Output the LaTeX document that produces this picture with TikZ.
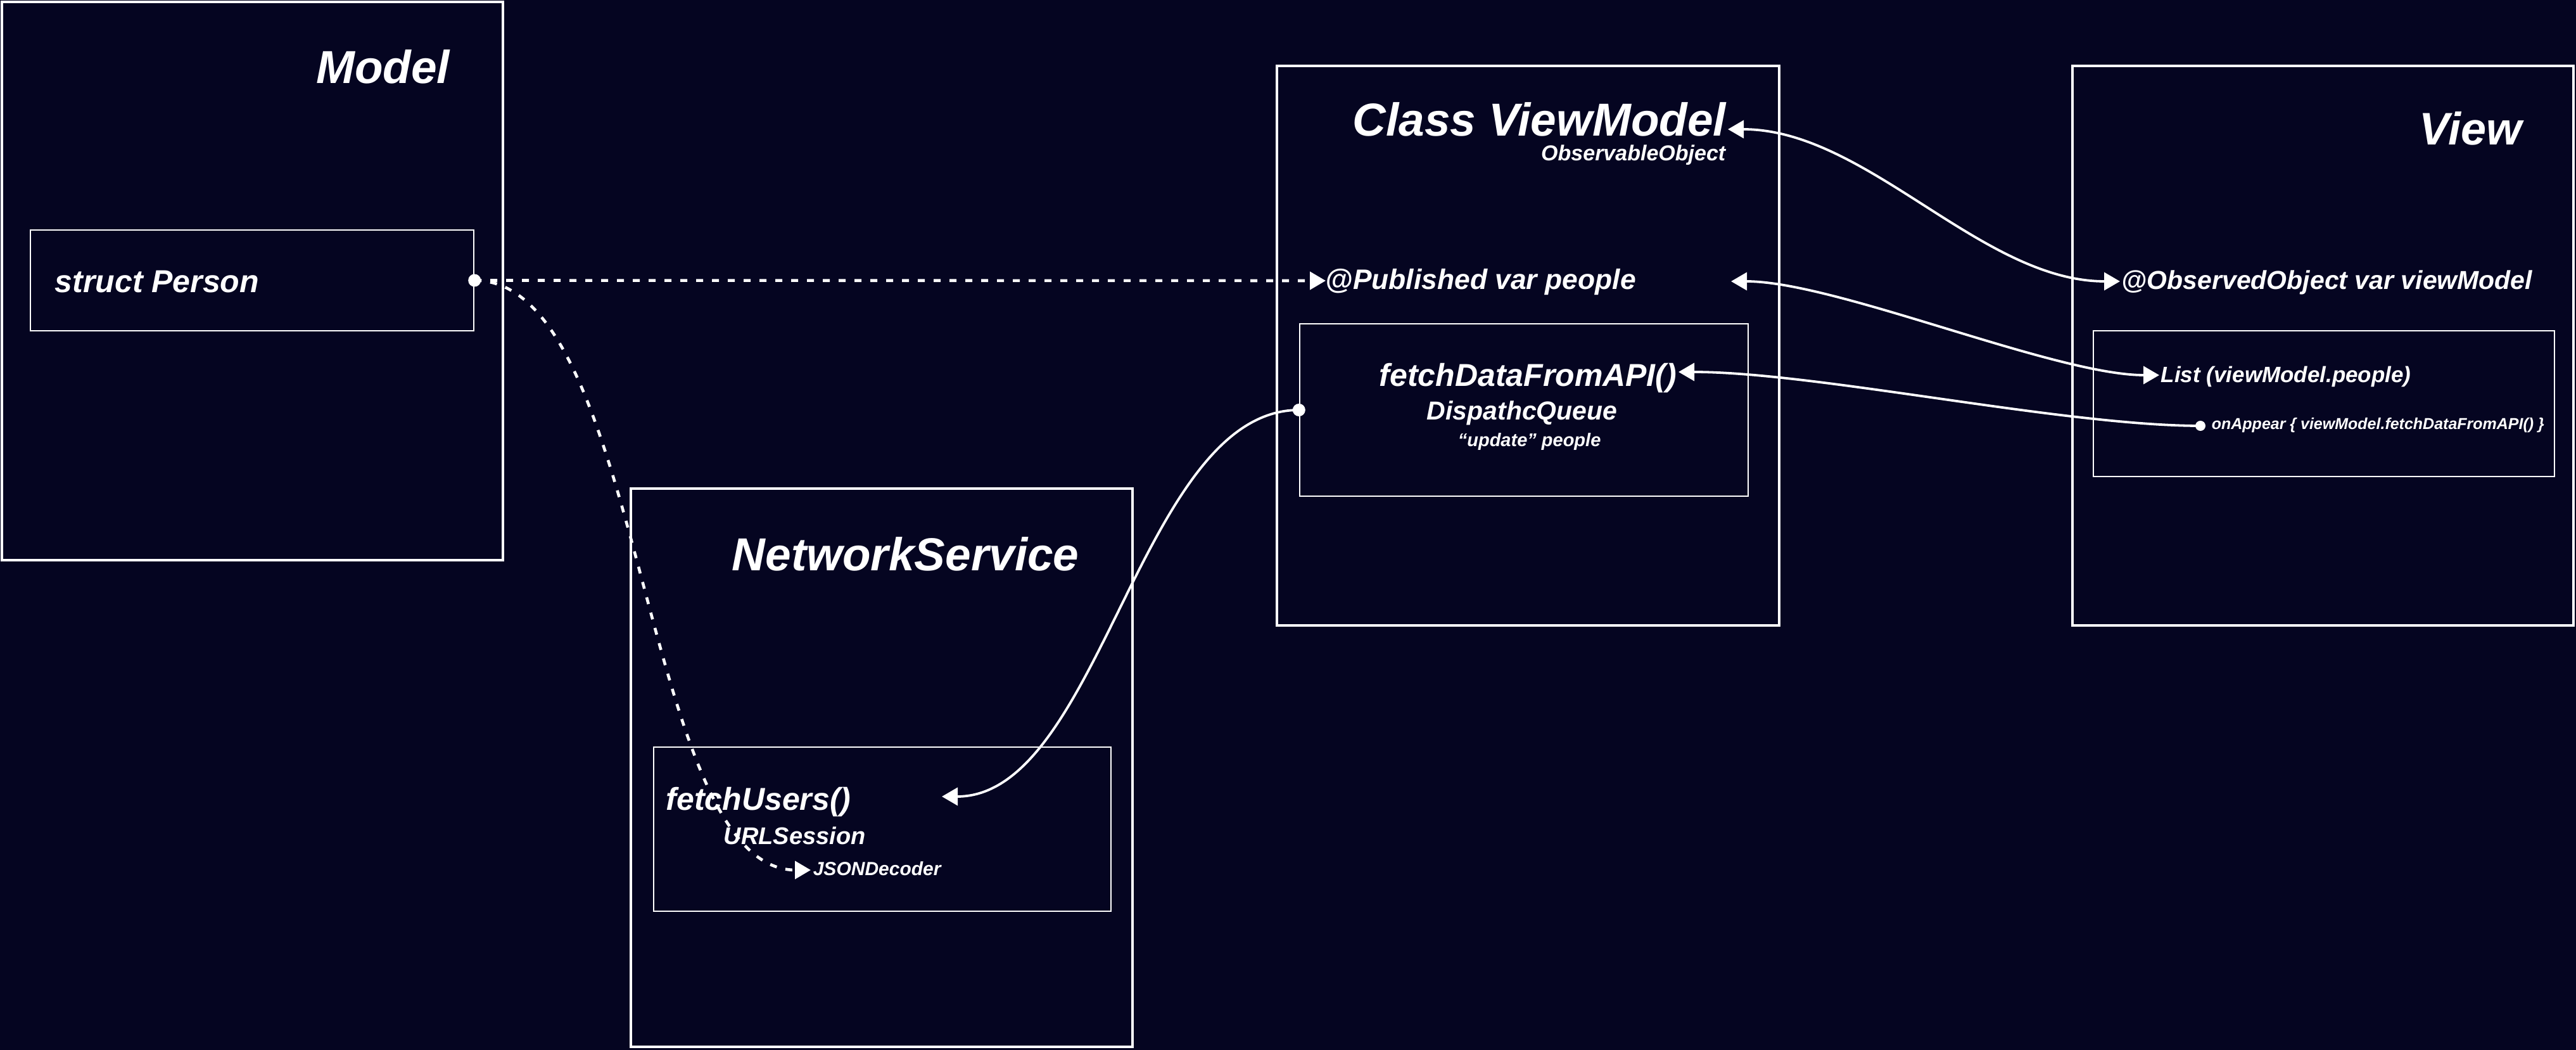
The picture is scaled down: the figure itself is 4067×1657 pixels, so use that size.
\documentclass[tikz,border=0pt]{standalone}
\usepackage{fontspec}
\setmainfont{Liberation Sans}
\usetikzlibrary{arrows.meta,fit,calc}
\definecolor{bg}{RGB}{5,5,33}
\tikzset{
  outerbox/.style={draw=white, line width=1pt, inner sep=0pt},
  innerbox/.style={draw=white, line width=0.6pt, inner sep=0pt},
  lbl/.style={text=white, inner sep=0pt},
  fsz/.style={font=\bfseries\itshape\fontsize{#1}{#1}\selectfont},
  conn/.style={draw=white, line width=0.95pt},
  dconn/.style={draw=white, line width=1.15pt, dash pattern=on 2.75pt off 3.5pt},
  dot/.style={circle, fill=white, inner sep=0pt, minimum size=5pt},
  >={Triangle[length=6.25pt,width=7pt]}
}
\begin{document}
\begin{tikzpicture}[x=0.25pt,y=-0.25pt]
\fill[bg] (0,0) rectangle (4067,1657);
\useasboundingbox (0,0) rectangle (4067,1657);

% Model
\node[outerbox, fit={(3,3) (794,884)}] (model) {};
\node[lbl, fsz=18.25pt, anchor=base east] (modelT) at (711,132) {Model};
\node[innerbox, fit={(48,363) (748,522)}] (sp) {};
\node[lbl, fsz=12.5pt, anchor=base west] (spT) at (86,462) {struct Person};

% NetworkService
\node[outerbox, fit={(996,771) (1788,1652)}] (ns) {};
\node[lbl, fsz=18.25pt, anchor=base west] (nsT) at (1155,900) {NetworkService};
\node[innerbox, fit={(1032,1179) (1754,1438)}] (fu) {};
\node[lbl, fsz=12.5pt, anchor=base west] (fuT) at (1051,1278) {fetchUsers()};
\node[lbl, fsz=9.5pt, anchor=base west] (urlT) at (1142,1332) {URLSession};
\node[lbl, fsz=7.5pt, anchor=base west] (jsonT) at (1283,1381) {JSONDecoder};

% ViewModel
\node[outerbox, fit={(2016,104) (2809,987)}] (vm) {};
\node[lbl, fsz=18.25pt, anchor=base east] (vmT) at (2726,215) {Class ViewModel};
\node[lbl, fsz=8.5pt, anchor=base east] (obsT) at (2725,254) {ObservableObject};
\node[lbl, fsz=11.1pt, anchor=base west] (pubT) at (2092,457) {@Published var people};
\node[innerbox, fit={(2052,511) (2760,783)}] (fd) {};
\node[lbl, fsz=12.5pt, anchor=base east] (fdT) at (2648,609) {fetchDataFromAPI()};
\node[lbl, fsz=10.25pt, anchor=base west] (dqT) at (2252,662) {DispathcQueue};
\node[lbl, fsz=7.25pt, anchor=base west] (upT) at (2301,704) {“update” people};

% View
\node[outerbox, fit={(3272,104) (4063,987)}] (vw) {};
\node[lbl, fsz=18pt, anchor=base east] (vwT) at (3982,229) {View};
\node[lbl, fsz=10.25pt, anchor=base west] (ooT) at (3349,457) {@ObservedObject var viewModel};
\node[innerbox, fit={(3305,522) (4033,752)}] (vin) {};
\node[lbl, fsz=8.75pt, anchor=base west] (listT) at (3411,603) {List (viewModel.people)};
\node[lbl, fsz=6.25pt, anchor=base west] (oaT) at (3491,677) {onAppear \{ viewModel.fetchDataFromAPI() \}};

% dots and free ends
\node[dot] (d1) at (sp.east) {};
\node[dot] (d2) at (fd.west) {};
\node[dot, minimum size=4pt] (d3) at (3474,672) {};
\coordinate (pubR) at (2733,444);
\coordinate (fuR) at (1487,1257);

% connectors
\draw[dconn,->] (d1.center) -- ([shift={(1,-14)}]pubT.base west);
\draw[dconn,->] (d1.center) .. controls +(270,0) and +(-270,0) .. ([shift={(-3,-8)}]jsonT.base west);
\draw[conn,->] (d2.center) .. controls +(-250,0) and +(250,0) .. (fuR);
\draw[conn,<->] ([shift={(2,-11)}]vmT.base east) .. controls +(219,0) and +(-219,0) .. ([shift={(-2,-13)}]ooT.base west);
\draw[conn,<->] (pubR) .. controls +(165,0) and +(-165,0) .. ([shift={(-2,-11)}]listT.base west);
\draw[conn,->] (d3.center) .. controls +(-216,0) and +(216,0) .. ([shift={(2,-22)}]fdT.base east);
\end{tikzpicture}
\end{document}
